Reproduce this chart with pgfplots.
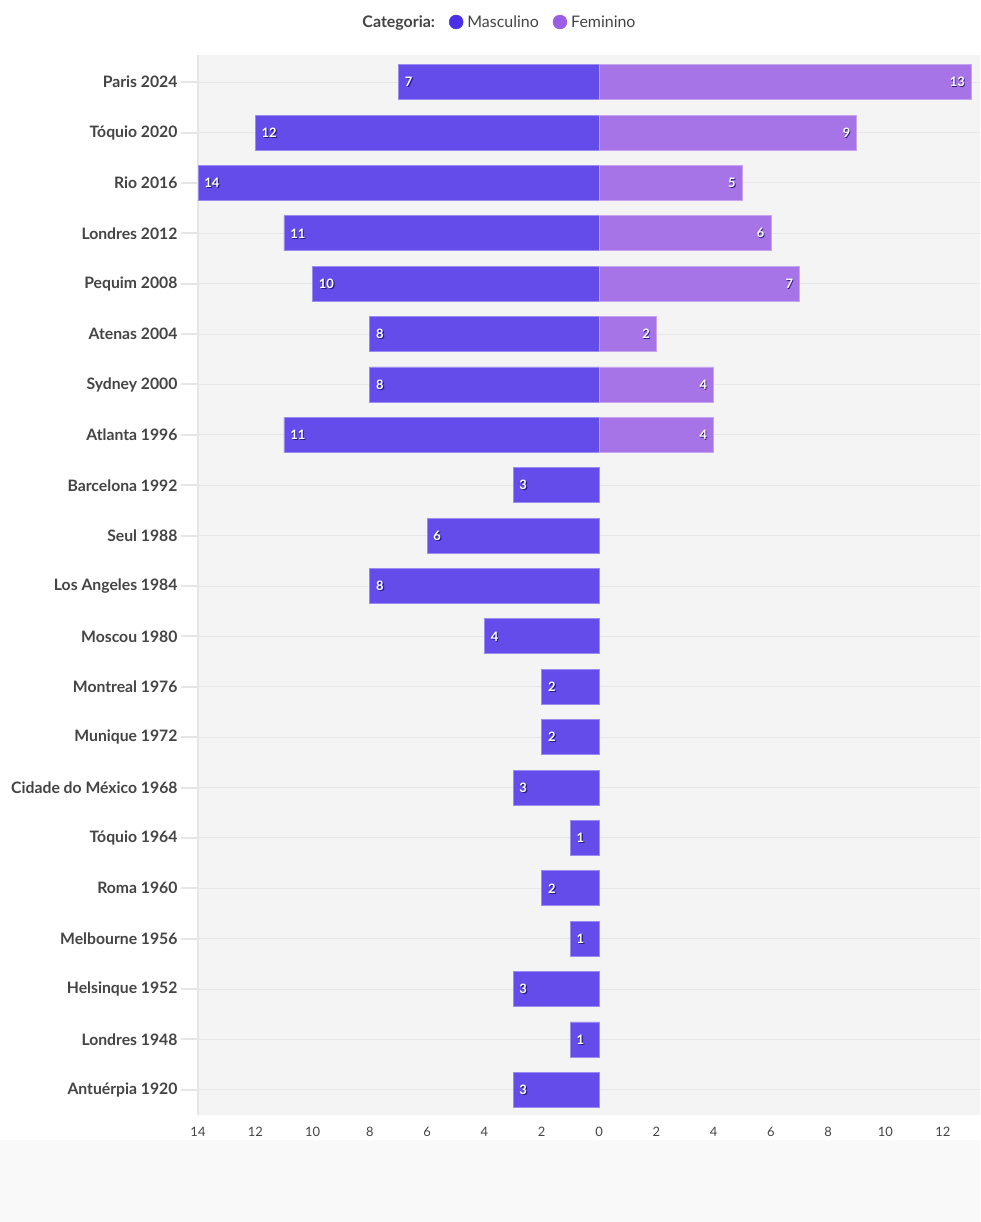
\documentclass[border=0pt]{standalone}
\usepackage{pgfplots}
\pgfplotsset{compat=1.18}
\usepackage{fontspec}
\setmainfont{Lato}
\definecolor{masc}{HTML}{634CE9}
\definecolor{fem}{HTML}{A774E7}
\definecolor{mascL}{HTML}{4A2EE8}
\definecolor{femL}{HTML}{9B5DE5}
\definecolor{plotbg}{HTML}{F4F4F4}
\definecolor{gridc}{HTML}{E6E6E6}
\definecolor{txt}{HTML}{444444}
\definecolor{shadowc}{HTML}{2A1A80}
\definecolor{bottombg}{HTML}{F9F9F9}
\begin{document}
\begin{tikzpicture}[x=1bp,y=1bp]
\fill[white] (0,0) rectangle (980,1222);
\fill[bottombg] (0,0) rectangle (980,82);
\begin{axis}[
  at={(198bp,107bp)}, anchor=south west,
  scale only axis, width=782bp, height=1060bp,
  xmin=-14, xmax=13.3, ymin=-0.5, ymax=20.54,
  axis background/.style={fill=plotbg},
  xbar, bar width=35bp, bar shift=0pt,
  ytick={0,...,20},
  yticklabels={Antuérpia 1920, Londres 1948, Helsinque 1952, Melbourne 1956, Roma 1960, Tóquio 1964, Cidade do México 1968, Munique 1972, Montreal 1976, Moscou 1980, Los Angeles 1984, Seul 1988, Barcelona 1992, Atlanta 1996, Sydney 2000, Atenas 2004, Pequim 2008, Londres 2012, Rio 2016, Tóquio 2020, Paris 2024},
  xtick={-14,-12,...,12},
  xticklabels={14,12,10,8,6,4,2,0,2,4,6,8,10,12},
  yticklabel style={font=\fontsize{15.8}{19}\selectfont\bfseries, text=txt},
  xticklabel style={font=\fontsize{13}{15}\selectfont, text=txt, yshift=8bp},
  /pgf/number format/assume math mode=true,
  tick align=outside,
  major tick length=17bp,
  ytick style={draw=gridc, line width=2bp},
  xtick style={draw=none},
  ymajorgrids, major grid style={draw=gridc, line width=1bp},
  axis x line*=bottom, axis y line*=left,
  x axis line style={draw=none},
  y axis line style={draw=gridc, line width=2bp, -},
  point meta=explicit,
  nodes near coords={\pgfmathprintnumber{\pgfplotspointmeta}},
  legend style={at={(rel axis cs:0.3836,1)}, anchor=center, yshift=33bp, draw=none, fill=none, font=\fontsize{16}{19}\selectfont, text=txt, legend columns=-1,
    /tikz/every odd column/.append style={column sep=2bp},
    /tikz/every even column/.append style={column sep=12bp}},
]
% masc bars with label shadow
\addplot[fill=masc, draw=white!35!masc, line width=0.8bp, forget plot,
  every node near coord/.style={anchor=west, text=shadowc, xshift=3.8bp, yshift=-1bp, font=\fontsize{13}{15}\selectfont\bfseries}]
 coordinates {(-3,0)[3] (-1,1)[1] (-3,2)[3] (-1,3)[1] (-2,4)[2] (-1,5)[1] (-3,6)[3] (-2,7)[2] (-2,8)[2] (-4,9)[4] (-8,10)[8] (-6,11)[6] (-3,12)[3] (-11,13)[11] (-8,14)[8] (-8,15)[8] (-10,16)[10] (-11,17)[11] (-14,18)[14] (-12,19)[12] (-7,20)[7]};
\addplot[fill=none, draw=none, forget plot,
  every node near coord/.style={anchor=west, text=white, xshift=2.8bp, font=\fontsize{13}{15}\selectfont\bfseries}]
 coordinates {(-3,0)[3] (-1,1)[1] (-3,2)[3] (-1,3)[1] (-2,4)[2] (-1,5)[1] (-3,6)[3] (-2,7)[2] (-2,8)[2] (-4,9)[4] (-8,10)[8] (-6,11)[6] (-3,12)[3] (-11,13)[11] (-8,14)[8] (-8,15)[8] (-10,16)[10] (-11,17)[11] (-14,18)[14] (-12,19)[12] (-7,20)[7]};
% fem bars with label shadow
\addplot[fill=fem, draw=white!35!fem, line width=0.8bp, forget plot,
  every node near coord/.style={anchor=east, text=shadowc, xshift=-2bp, yshift=-1bp, font=\fontsize{13}{15}\selectfont\bfseries}]
 coordinates {(4,13)[4] (4,14)[4] (2,15)[2] (7,16)[7] (6,17)[6] (5,18)[5] (9,19)[9] (13,20)[13]};
\addplot[fill=none, draw=none, forget plot,
  every node near coord/.style={anchor=east, text=white, xshift=-3bp, font=\fontsize{13}{15}\selectfont\bfseries}]
 coordinates {(4,13)[4] (4,14)[4] (2,15)[2] (7,16)[7] (6,17)[6] (5,18)[5] (9,19)[9] (13,20)[13]};
\addlegendimage{empty legend}
\addlegendentry{\bfseries Categoria:}
\addlegendimage{legend image code/.code={\fill[mascL] (6bp,0bp) circle (7bp);}}
\addlegendentry{Masculino}
\addlegendimage{legend image code/.code={\fill[femL] (6bp,0bp) circle (7bp);}}
\addlegendentry{Feminino}
\end{axis}
\end{tikzpicture}
\end{document}
